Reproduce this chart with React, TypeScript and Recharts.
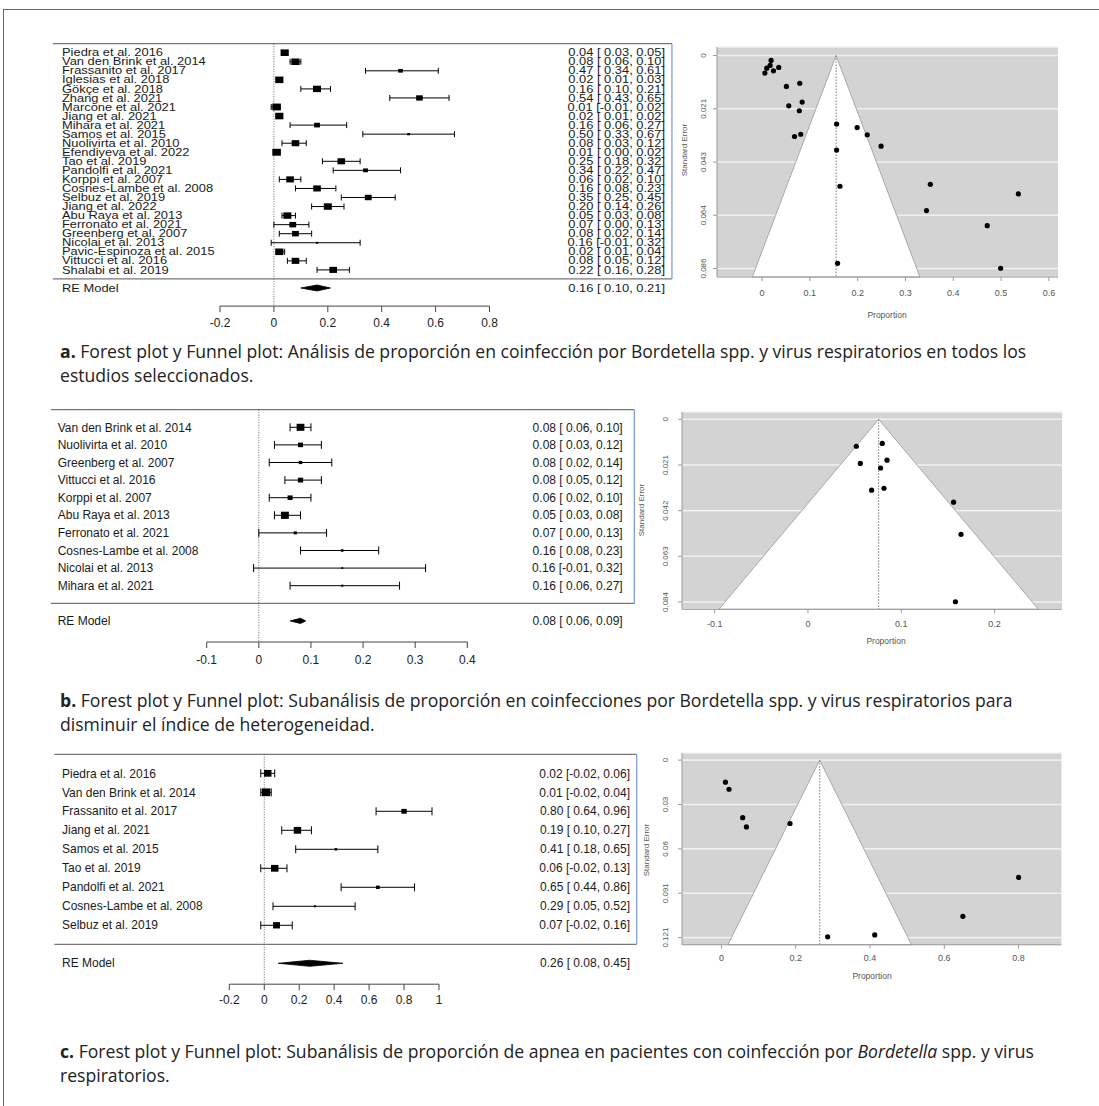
import React from "react";
import {
  ComposedChart,
  Scatter,
  XAxis,
  YAxis,
  ErrorBar,
  Area,
  ReferenceLine,
  CartesianGrid,
} from "recharts";

// ---------------- Panel a: forest ----------------
const aStudies = [
  "Piedra et al. 2016",
  "Van den Brink et al. 2014",
  "Frassanito et al. 2017",
  "Iglesias et al. 2018",
  "Gökçe et al. 2018",
  "Zhang et al. 2021",
  "Marcone et al. 2021",
  "Jiang et al. 2021",
  "Mihara et al. 2021",
  "Samos et al. 2015",
  "Nuolivirta et al. 2010",
  "Efendiyeva et al. 2022",
  "Tao et al. 2019",
  "Pandolfi et al. 2021",
  "Korppi et al. 2007",
  "Cosnes-Lambe et al. 2008",
  "Selbuz et al. 2019",
  "Jiang et al. 2022",
  "Abu Raya et al. 2013",
  "Ferronato et al. 2021",
  "Greenberg et al. 2007",
  "Nicolai et al. 2013",
  "Pavic-Espinoza et al. 2015",
  "Vittucci et al. 2016",
  "Shalabi et al. 2019",
];
const aEst = [0.04, 0.08, 0.47, 0.02, 0.16, 0.54, 0.01, 0.02, 0.16, 0.5, 0.08, 0.01, 0.25, 0.34, 0.06, 0.16, 0.35, 0.2, 0.05, 0.07, 0.08, 0.16, 0.02, 0.08, 0.22];
const aLow = [0.03, 0.06, 0.34, 0.01, 0.1, 0.43, -0.01, 0.01, 0.06, 0.33, 0.03, 0.0, 0.18, 0.22, 0.02, 0.08, 0.25, 0.14, 0.03, 0.0, 0.02, -0.01, 0.01, 0.05, 0.16];
const aHigh = [0.05, 0.1, 0.61, 0.03, 0.21, 0.65, 0.02, 0.02, 0.27, 0.67, 0.12, 0.02, 0.32, 0.47, 0.1, 0.23, 0.45, 0.26, 0.08, 0.13, 0.14, 0.32, 0.04, 0.12, 0.28];
const aWeight = [4.1, 4.1, 2.3, 4.1, 4.0, 3.3, 4.3, 4.1, 2.9, 1.4, 3.8, 4.3, 3.8, 2.4, 3.8, 3.8, 3.4, 4.0, 4.0, 3.4, 3.4, 1.2, 4.1, 3.8, 3.8];
const aRE = [0.16, 0.1, 0.21];
const aTicks = [-0.2, 0, 0.2, 0.4, 0.6, 0.8];

// ---------------- Panel a: funnel ----------------
const aFunX = [0.019, 0.017, 0.01, 0.006, 0.024, 0.035, 0.051, 0.079, 0.084, 0.056, 0.078, 0.156, 0.199, 0.22, 0.068, 0.081, 0.249, 0.156, 0.163, 0.352, 0.536, 0.344, 0.471, 0.158, 0.499];
const aFunSE = [0.002, 0.004, 0.0051, 0.0071, 0.0062, 0.0048, 0.0125, 0.0112, 0.0188, 0.0203, 0.0223, 0.0277, 0.0291, 0.032, 0.0327, 0.0318, 0.0366, 0.0382, 0.0528, 0.052, 0.0559, 0.0626, 0.0687, 0.0839, 0.0859];
const aFunCenter = 0.155;
const aFunSETicks = [0, 0.0215, 0.043, 0.0645, 0.086];
const aFunSELabels = ["0", "0.021", "0.043", "0.064", "0.086"];
const aFunXTicks = [0, 0.1, 0.2, 0.3, 0.4, 0.5, 0.6];

// ---------------- Panel b: forest ----------------
const bStudies = [
  "Van den Brink et al. 2014",
  "Nuolivirta et al. 2010",
  "Greenberg et al. 2007",
  "Vittucci et al. 2016",
  "Korppi et al. 2007",
  "Abu Raya et al. 2013",
  "Ferronato et al. 2021",
  "Cosnes-Lambe et al. 2008",
  "Nicolai et al. 2013",
  "Mihara et al. 2021",
];
const bEst = [0.08, 0.08, 0.08, 0.08, 0.06, 0.05, 0.07, 0.16, 0.16, 0.16];
const bLow = [0.06, 0.03, 0.02, 0.05, 0.02, 0.03, 0.0, 0.08, -0.01, 0.06];
const bHigh = [0.1, 0.12, 0.14, 0.12, 0.1, 0.08, 0.13, 0.23, 0.32, 0.27];
const bWeight = [17.2, 11.1, 7.8, 11.7, 11.1, 17.5, 7.2, 6.1, 4.4, 5.0];
const bRE = [0.08, 0.06, 0.09];
const bTicks = [-0.1, 0, 0.1, 0.2, 0.3, 0.4];

// ---------------- Panel b: funnel ----------------
const bFunX = [0.0518, 0.0796, 0.0561, 0.0847, 0.0778, 0.0682, 0.0814, 0.156, 0.164, 0.158];
const bFunSE = [0.0124, 0.0111, 0.0203, 0.0188, 0.0224, 0.0326, 0.0317, 0.0381, 0.0529, 0.0839];
const bFunCenter = 0.0757;
const bFunSETicks = [0, 0.021, 0.042, 0.063, 0.084];
const bFunSELabels = ["0", "0.021", "0.042", "0.063", "0.084"];
const bFunXTicks = [-0.1, 0, 0.1, 0.2];

// ---------------- Panel c: forest ----------------
const cStudies = [
  "Piedra et al. 2016",
  "Van den Brink et al. 2014",
  "Frassanito et al. 2017",
  "Jiang et al. 2021",
  "Samos et al. 2015",
  "Tao et al. 2019",
  "Pandolfi et al. 2021",
  "Cosnes-Lambe et al. 2008",
  "Selbuz et al. 2019",
];
const cEst = [0.02, 0.01, 0.8, 0.19, 0.41, 0.06, 0.65, 0.29, 0.07];
const cLow = [-0.02, -0.02, 0.64, 0.1, 0.18, -0.02, 0.44, 0.05, -0.02];
const cHigh = [0.06, 0.04, 0.96, 0.27, 0.65, 0.13, 0.86, 0.52, 0.16];
const cWeight = [14.4, 16.5, 10.3, 14.4, 5.2, 14.4, 7.2, 4.1, 13.4];
const cRE = [0.26, 0.08, 0.45];
const cTicks = [-0.2, 0, 0.2, 0.4, 0.6, 0.8, 1];

// ---------------- Panel c: funnel ----------------
const cFunX = [0.0108, 0.0205, 0.0573, 0.0673, 0.1847, 0.8, 0.65, 0.286, 0.4127];
const cFunSE = [0.0151, 0.0199, 0.0393, 0.0456, 0.0433, 0.0801, 0.1067, 0.1207, 0.1194];
const cFunCenter = 0.2646;
const cFunSETicks = [0, 0.0303, 0.0606, 0.0909, 0.1212];
const cFunSELabels = ["0", "0.03", "0.06", "0.091", "0.121"];
const cFunXTicks = [0, 0.2, 0.4, 0.6, 0.8];

// ---------------- Captions ----------------
const captionA = [
  "Forest plot y Funnel plot: Análisis de proporción en coinfección por Bordetella spp. y virus respiratorios en todos los",
  "estudios seleccionados.",
];
const captionB = [
  "Forest plot y Funnel plot: Subanálisis de proporción en coinfecciones por Bordetella spp. y virus respiratorios para",
  "disminuir el índice de heterogeneidad.",
];

const SANS = "'Liberation Sans', Arial, Helvetica, sans-serif";

const fmt = (e: number, l: number, h: number) =>
  `${e.toFixed(2)} [${l < 0 ? "" : " "}${l.toFixed(2)}, ${h.toFixed(2)}]`;

type ForestCfg = {
  top: number;
  plotL: number;
  plotR: number;
  plotT: number;
  plotB: number;
  yDomain: [number, number];
  xDomain: [number, number];
  lineLeft: number;
  lineRight: number;
  labelX: number;
  estX: number;
  fs: number;
  sx: number;
  boxScale: number;
  boxAspect: number;
  diamondHalf: number;
  capW: number;
  tickMargin: number;
};

const W = 700;
const XAH = 30;

const STxt = ({ x, y, anchor, fs, sx, children }: any) => (
  <text
    transform={`translate(${x},${y}) scale(${sx},1)`}
    textAnchor={anchor}
    dy="0.35em"
    fontSize={fs}
    fontFamily={SANS}
    fill="#1a1a1a"
  >
    {children}
  </text>
);

const Forest = ({ cfg, labels, est, lo, hi, wt, re, ticks }: any) => {
  const c: ForestCfg = cfg;
  const n = labels.length;
  const sepRow = n;
  const reRow = n + 1;
  const rows = labels.map((l: string, i: number) => ({
    x: est[i],
    y: i,
    err: [est[i] - lo[i], hi[i] - est[i]],
    w: wt[i],
    label: l,
    txt: fmt(est[i], lo[i], hi[i]),
  }));
  const reData = [{ x: re[0], y: reRow, label: "RE Model", txt: fmt(re[0], re[1], re[2]) }];
  const diamond = [
    { x: re[1], r: [reRow, reRow] },
    { x: re[0], r: [reRow - c.diamondHalf, reRow + c.diamondHalf] },
    { x: re[2], r: [reRow, reRow] },
  ];
  const height = c.plotB - c.top + XAH + 4;
  const margin = {
    left: c.plotL,
    right: W - c.plotR,
    top: c.plotT - c.top,
    bottom: height - (c.plotB - c.top) - XAH,
  };
  const boxShape = (p: any) => {
    const { cx, cy, payload } = p;
    const h = payload.w * c.boxScale;
    const w = h * c.boxAspect;
    return (
      <g>
        <rect x={cx - w / 2} y={cy - h / 2} width={w} height={h} fill="#000" />
        <STxt x={c.labelX} y={cy} anchor="start" fs={c.fs} sx={c.sx}>
          {payload.label}
        </STxt>
        <STxt x={c.estX} y={cy} anchor="end" fs={c.fs} sx={c.sx}>
          {payload.txt}
        </STxt>
      </g>
    );
  };
  const reShape = (p: any) => {
    const { cy, payload } = p;
    return (
      <g>
        <STxt x={c.labelX} y={cy} anchor="start" fs={c.fs} sx={c.sx}>
          {payload.label}
        </STxt>
        <STxt x={c.estX} y={cy} anchor="end" fs={c.fs} sx={c.sx}>
          {payload.txt}
        </STxt>
      </g>
    );
  };
  const tick = (p: any) => (
    <text
      x={p.x}
      y={p.y}
      dy="0.71em"
      textAnchor="middle"
      fontSize={12}
      fontFamily={SANS}
      fill="#222"
    >
      {String(p.payload.value)}
    </text>
  );
  return (
    <div style={{ position: "absolute", left: 0, top: c.top }}>
      <ComposedChart width={W} height={height} margin={margin}>
        <XAxis
          type="number"
          dataKey="x"
          domain={c.xDomain}
          ticks={ticks}
          interval={0}
          height={XAH}
          tickSize={6}
          tickMargin={c.tickMargin}
          stroke="#444"
          tick={tick}
        />
        <YAxis type="number" dataKey="y" domain={c.yDomain} reversed hide width={0} />
        <ReferenceLine
          segment={[
            { x: c.lineLeft, y: c.yDomain[0] },
            { x: c.lineRight, y: c.yDomain[0] },
          ]}
          stroke="#777"
          strokeWidth={1.3}
          ifOverflow="visible"
        />
        <ReferenceLine
          segment={[
            { x: c.lineLeft, y: sepRow },
            { x: c.lineRight, y: sepRow },
          ]}
          stroke="#777"
          strokeWidth={1.3}
          ifOverflow="visible"
        />
        <ReferenceLine
          segment={[
            { x: c.lineRight, y: c.yDomain[0] },
            { x: c.lineRight, y: sepRow },
          ]}
          stroke="#7f9fe0"
          strokeWidth={1.3}
          ifOverflow="visible"
        />
        <ReferenceLine
          segment={[
            { x: 0, y: c.yDomain[0] },
            { x: 0, y: c.yDomain[1] },
          ]}
          stroke="#666"
          strokeDasharray="1 1.5"
          ifOverflow="visible"
        />
        <Area
          data={diamond}
          dataKey="r"
          type="linear"
          fill="#000"
          fillOpacity={1}
          stroke="#000"
          strokeWidth={0.8}
          dot={false}
          activeDot={false}
          isAnimationActive={false}
        />
        <Scatter data={rows} dataKey="y" shape={boxShape} isAnimationActive={false}>
          <ErrorBar dataKey="err" direction="x" width={c.capW} stroke="#000" strokeWidth={1} />
        </Scatter>
        <Scatter data={reData} dataKey="y" shape={reShape} isAnimationActive={false} />
      </ComposedChart>
    </div>
  );
};

type FunnelCfg = {
  plot: { l: number; r: number; t: number; b: number };
  xDomain: [number, number];
  yDomain: [number, number];
  xTickMargin: number;
  yTickMargin: number;
  seLabel: { x: number; y: number };
  propLabel: { x: number; y: number };
};

const Funnel = ({ cfg, xs, ses, center, seTicks, seLabels, xTicks }: any) => {
  const c: FunnelCfg = cfg;
  const yb = c.yDomain[1];
  const tri = [
    { x: center - 1.96 * yb, r: [yb, yb] },
    { x: center, r: [0, yb] },
    { x: center + 1.96 * yb, r: [yb, yb] },
  ];
  const pts = xs.map((x: number, i: number) => ({ x, y: ses[i] }));
  const yAW = 30;
  const xAH = 26;
  const left = c.plot.l - yAW;
  const top = c.plot.t - 2;
  const width = c.plot.r - left + 4;
  const height = c.plot.b - top + xAH + 2;
  const yTick = (p: any) => {
    const idx = seTicks.indexOf(p.payload.value);
    return (
      <text
        transform={`rotate(-90 ${p.x} ${p.y})`}
        x={p.x}
        y={p.y}
        textAnchor="middle"
        fontSize={8}
        fontFamily={SANS}
        fill="#555"
      >
        {seLabels[idx]}
      </text>
    );
  };
  const xTick = (p: any) => (
    <text
      x={p.x}
      y={p.y}
      dy="0.71em"
      textAnchor="middle"
      fontSize={9}
      fontFamily={SANS}
      fill="#555"
    >
      {String(p.payload.value)}
    </text>
  );
  return (
    <>
      <div style={{ position: "absolute", left, top }}>
        <ComposedChart width={width} height={height} margin={{ top: 2, right: 4, bottom: 2, left: 0 }}>
          <CartesianGrid fill="#d3d3d3" fillOpacity={1} stroke="#f0f0f0" strokeWidth={1.6} vertical={false} />
          <XAxis
            type="number"
            dataKey="x"
            domain={c.xDomain}
            ticks={xTicks}
            interval={0}
            height={xAH}
            tickSize={4}
            tickMargin={c.xTickMargin}
            stroke="#9a9a9a"
            tick={xTick}
          />
          <YAxis
            type="number"
            dataKey="y"
            domain={c.yDomain}
            reversed
            ticks={seTicks}
            interval={0}
            width={yAW}
            tickSize={4}
            tickMargin={c.yTickMargin}
            stroke="#9a9a9a"
            tick={yTick}
          />
          <Area
            data={tri}
            dataKey="r"
            type="linear"
            fill="#ffffff"
            fillOpacity={1}
            stroke="#a8a8a8"
            strokeWidth={1}
            dot={false}
            activeDot={false}
            isAnimationActive={false}
          />
          <ReferenceLine
            segment={[
              { x: center, y: 0 },
              { x: center, y: yb },
            ]}
            stroke="#777"
            strokeDasharray="1.5 1.5"
            ifOverflow="visible"
          />
          <Scatter
            data={pts}
            dataKey="y"
            isAnimationActive={false}
            shape={(p: any) => <circle cx={p.cx} cy={p.cy} r={2.6} fill="#000" />}
          />
        </ComposedChart>
      </div>
      <div
        style={{
          position: "absolute",
          left: c.seLabel.x,
          top: c.seLabel.y,
          transform: "translate(-50%,-50%) rotate(-90deg)",
          fontSize: 8,
          fontFamily: SANS,
          color: "#555",
          whiteSpace: "nowrap",
        }}
      >
        Standard Error
      </div>
      <div
        style={{
          position: "absolute",
          left: c.propLabel.x,
          top: c.propLabel.y,
          transform: "translate(-50%,-50%)",
          fontSize: 8.5,
          fontFamily: SANS,
          color: "#555",
          whiteSpace: "nowrap",
        }}
      >
        Proportion
      </div>
    </>
  );
};

const forestA: ForestCfg = {
  top: 0,
  plotL: 220,
  plotR: 489.5,
  plotT: 43.65,
  plotB: 306.1,
  yDomain: [-1, 28],
  xDomain: [-0.2, 0.8],
  lineLeft: -0.82,
  lineRight: 1.477,
  labelX: 62,
  estX: 665,
  fs: 10.4,
  sx: 1.24,
  boxScale: 1.6,
  boxAspect: 1.25,
  diamondHalf: 0.33,
  capW: 3,
  tickMargin: 6.5,
};
const forestB: ForestCfg = {
  top: 380,
  plotL: 206.7,
  plotR: 467.3,
  plotT: 409.7,
  plotB: 642.0,
  yDomain: [-1, 12.2],
  xDomain: [-0.1, 0.4],
  lineLeft: -0.399,
  lineRight: 0.7205,
  labelX: 57.7,
  estX: 622.7,
  fs: 12,
  sx: 1,
  boxScale: 0.41,
  boxAspect: 1.1,
  diamondHalf: 0.15,
  capW: 4,
  tickMargin: 7.5,
};
const forestC: ForestCfg = {
  top: 730,
  plotL: 229.3,
  plotR: 439,
  plotT: 754.3,
  plotB: 984.2,
  yDomain: [-1, 11.1],
  xDomain: [-0.2, 1],
  lineLeft: -1.2015,
  lineRight: 2.131,
  labelX: 62,
  estX: 630,
  fs: 12,
  sx: 1,
  boxScale: 0.47,
  boxAspect: 1.1,
  diamondHalf: 0.16,
  capW: 4,
  tickMargin: 5.5,
};

const funnelA: FunnelCfg = {
  plot: { l: 717, r: 1058, t: 47, b: 277 },
  xDomain: [-0.0941, 0.619],
  yDomain: [-0.04 * 0.086, 1.04 * 0.086],
  xTickMargin: 9,
  yTickMargin: 7,
  seLabel: { x: 684, y: 150 },
  propLabel: { x: 887, y: 315 },
};
const funnelB: FunnelCfg = {
  plot: { l: 681.7, r: 1061.7, t: 412, b: 609.3 },
  xDomain: [-0.135, 0.2722],
  yDomain: [-0.04 * 0.084, 1.04 * 0.084],
  xTickMargin: 7,
  yTickMargin: 10.3,
  seLabel: { x: 641, y: 510 },
  propLabel: { x: 886, y: 641 },
};
const funnelC: FunnelCfg = {
  plot: { l: 682.3, r: 1061.7, t: 753.3, b: 945 },
  xDomain: [-0.1061, 0.9152],
  yDomain: [-0.04 * 0.1212, 1.04 * 0.1212],
  xTickMargin: 6,
  yTickMargin: 10.4,
  seLabel: { x: 646, y: 850 },
  propLabel: { x: 872, y: 976 },
};

const capStyle = (top: number): React.CSSProperties => ({
  position: "absolute",
  left: 60,
  top,
  fontFamily: "'Open Sans', sans-serif",
  fontSize: 17.6,
  lineHeight: "24px",
  color: "#222",
  whiteSpace: "nowrap",
});

export default function App() {
  return (
    <div
      style={{
        position: "absolute",
        left: 0,
        top: 0,
        width: 1099,
        height: 1106,
        background: "#fff",
        overflow: "hidden",
      }}
    >
      <div
        style={{
          position: "absolute",
          left: 3,
          top: 9,
          width: 1200,
          height: 1200,
          borderLeft: "1px solid #666",
          borderTop: "1px solid #666",
        }}
      />
      <Forest cfg={forestA} labels={aStudies} est={aEst} lo={aLow} hi={aHigh} wt={aWeight} re={aRE} ticks={aTicks} />
      <Funnel cfg={funnelA} xs={aFunX} ses={aFunSE} center={aFunCenter} seTicks={aFunSETicks} seLabels={aFunSELabels} xTicks={aFunXTicks} />
      <div style={capStyle(339)}>
        <b>a.</b> {captionA[0]}
        <br />
        {captionA[1]}
      </div>

      <Forest cfg={forestB} labels={bStudies} est={bEst} lo={bLow} hi={bHigh} wt={bWeight} re={bRE} ticks={bTicks} />
      <Funnel cfg={funnelB} xs={bFunX} ses={bFunSE} center={bFunCenter} seTicks={bFunSETicks} seLabels={bFunSELabels} xTicks={bFunXTicks} />
      <div style={capStyle(688)}>
        <b>b.</b> {captionB[0]}
        <br />
        {captionB[1]}
      </div>

      <Forest cfg={forestC} labels={cStudies} est={cEst} lo={cLow} hi={cHigh} wt={cWeight} re={cRE} ticks={cTicks} />
      <Funnel cfg={funnelC} xs={cFunX} ses={cFunSE} center={cFunCenter} seTicks={cFunSETicks} seLabels={cFunSELabels} xTicks={cFunXTicks} />
      <div style={capStyle(1039)}>
        <b>c.</b> Forest plot y Funnel plot: Subanálisis de proporción de apnea en pacientes con coinfección por{" "}
        <i>Bordetella</i> spp. y virus
        <br />
        respiratorios.
      </div>
    </div>
  );
}
